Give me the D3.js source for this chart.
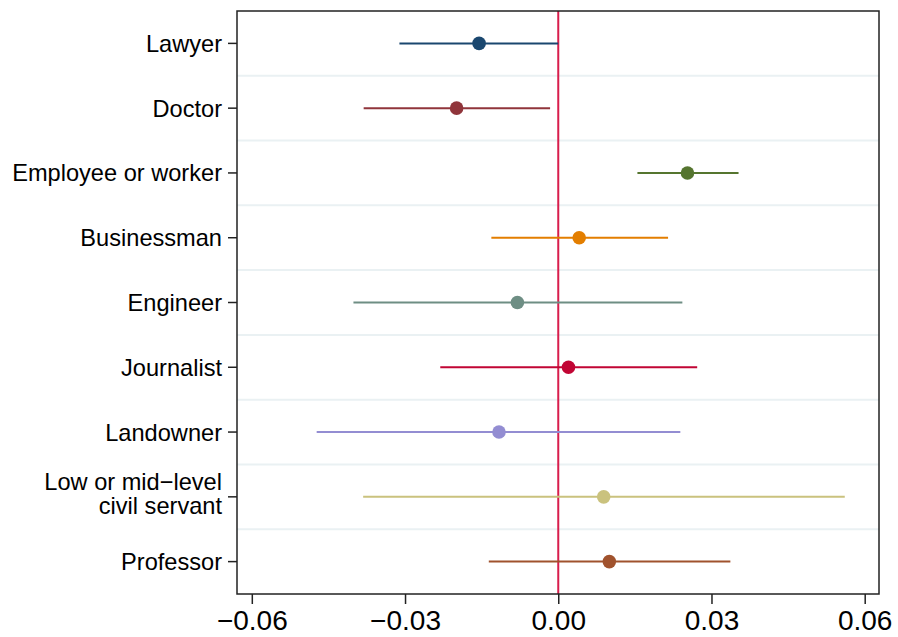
<!DOCTYPE html>
<html>
<head>
<meta charset="utf-8">
<script src="https://cdn.jsdelivr.net/npm/d3@7"></script>
<style>
  body { margin: 0; background: #fff; }
  text { font-family: "Liberation Sans", Arial, sans-serif; fill: #000; }
</style>
</head>
<body>
<script>
const w = 898;
const h = 637;

// chart values
const categories = ["Lawyer", "Doctor", "Employee or worker", "Businessman", "Engineer",
  "Journalist", "Landowner", "Low or mid\u2212level\ncivil servant", "Professor"];
const estimates = [-0.0155, -0.0199, 0.0253, 0.0041, -0.0080, 0.0020, -0.0116, 0.0089, 0.0100];
const lower = [-0.0311, -0.0381, 0.0155, -0.0131, -0.0401, -0.0231, -0.0473, -0.0382, -0.0136];
const upper = [0.0000, -0.0016, 0.0353, 0.0215, 0.0243, 0.0272, 0.0239, 0.0561, 0.0337];
const colors = ["#1a476f", "#90353b", "#55752f", "#e37e00", "#6e8e84",
  "#c10534", "#938dd2", "#cac27e", "#a0522d"];
const xTicks = [-0.06, -0.03, 0, 0.03, 0.06];

const margin = { top: 11, right: 19, bottom: 43, left: 237 };

const svg = d3.select("body").append("svg")
  .attr("width", w)
  .attr("height", h);

const x = d3.scaleLinear()
  .domain([-0.0629, 0.0628])
  .range([margin.left, w - margin.right]);

const y = d3.scaleBand()
  .domain(categories)
  .range([margin.top, h - margin.bottom]);

// light separators between rows
svg.append("g")
  .selectAll("line")
  .data(categories.slice(1))
  .enter()
  .append("line")
  .attr("x1", margin.left)
  .attr("x2", w - margin.right)
  .attr("y1", d => y(d))
  .attr("y2", d => y(d))
  .attr("stroke", "#eaf1f3")
  .attr("stroke-width", 2);

// zero line
svg.append("line")
  .attr("x1", x(0)).attr("x2", x(0))
  .attr("y1", margin.top).attr("y2", h - margin.bottom)
  .attr("stroke", "#d81d4c")
  .attr("stroke-width", 2);

const rows = categories.map((c, i) => ({
  cat: c, est: estimates[i], lo: lower[i], hi: upper[i], color: colors[i]
}));

// confidence intervals
svg.append("g")
  .selectAll("line")
  .data(rows)
  .enter()
  .append("line")
  .attr("x1", d => x(d.lo))
  .attr("x2", d => x(d.hi))
  .attr("y1", d => y(d.cat) + y.bandwidth() / 2)
  .attr("y2", d => y(d.cat) + y.bandwidth() / 2)
  .attr("stroke", d => d.color)
  .attr("stroke-width", 2);

// point estimates
svg.append("g")
  .selectAll("circle")
  .data(rows)
  .enter()
  .append("circle")
  .attr("cx", d => x(d.est))
  .attr("cy", d => y(d.cat) + y.bandwidth() / 2)
  .attr("r", 6.8)
  .attr("fill", d => d.color);

// frame
svg.append("rect")
  .attr("x", margin.left)
  .attr("y", margin.top)
  .attr("width", w - margin.left - margin.right)
  .attr("height", h - margin.top - margin.bottom)
  .attr("fill", "none")
  .attr("stroke", "#222")
  .attr("stroke-width", 1.5);

// x axis
const xAxis = svg.append("g")
  .attr("transform", `translate(0,${h - margin.bottom})`)
  .call(d3.axisBottom(x).tickValues(xTicks).tickFormat(d3.format(".2f")).tickSize(10).tickSizeOuter(0));
xAxis.select(".domain").remove();
xAxis.selectAll(".tick line").attr("stroke", "#222").attr("stroke-width", 1.5);
xAxis.selectAll(".tick text")
  .attr("y", 36)
  .attr("dy", 0)
  .style("font-size", "28px")
  .style("font-family", "'Liberation Sans', Arial, sans-serif")
  .attr("fill", "#000");

// y axis
const yAxis = svg.append("g")
  .attr("transform", `translate(${margin.left},0)`)
  .call(d3.axisLeft(y).tickSize(9).tickSizeOuter(0).tickFormat(""));
yAxis.select(".domain").remove();
yAxis.selectAll(".tick line").attr("stroke", "#222").attr("stroke-width", 1.5);

// y labels, one text per line so wrapped labels stack
const lh = 23.5;
const labelLines = [];
categories.forEach(c => {
  const parts = c.split("\n");
  const mid = y(c) + y.bandwidth() / 2;
  const first = parts.length > 1 ? mid - lh / 2 + 5 : mid + 8.5;
  parts.forEach((p, i) => labelLines.push({ text: p, y: first + i * lh }));
});

svg.append("g")
  .selectAll("text")
  .data(labelLines)
  .enter()
  .append("text")
  .attr("text-anchor", "end")
  .attr("x", 222)
  .attr("y", d => d.y)
  .style("font-size", "23.6px")
  .text(d => d.text);
</script>
</body>
</html>
